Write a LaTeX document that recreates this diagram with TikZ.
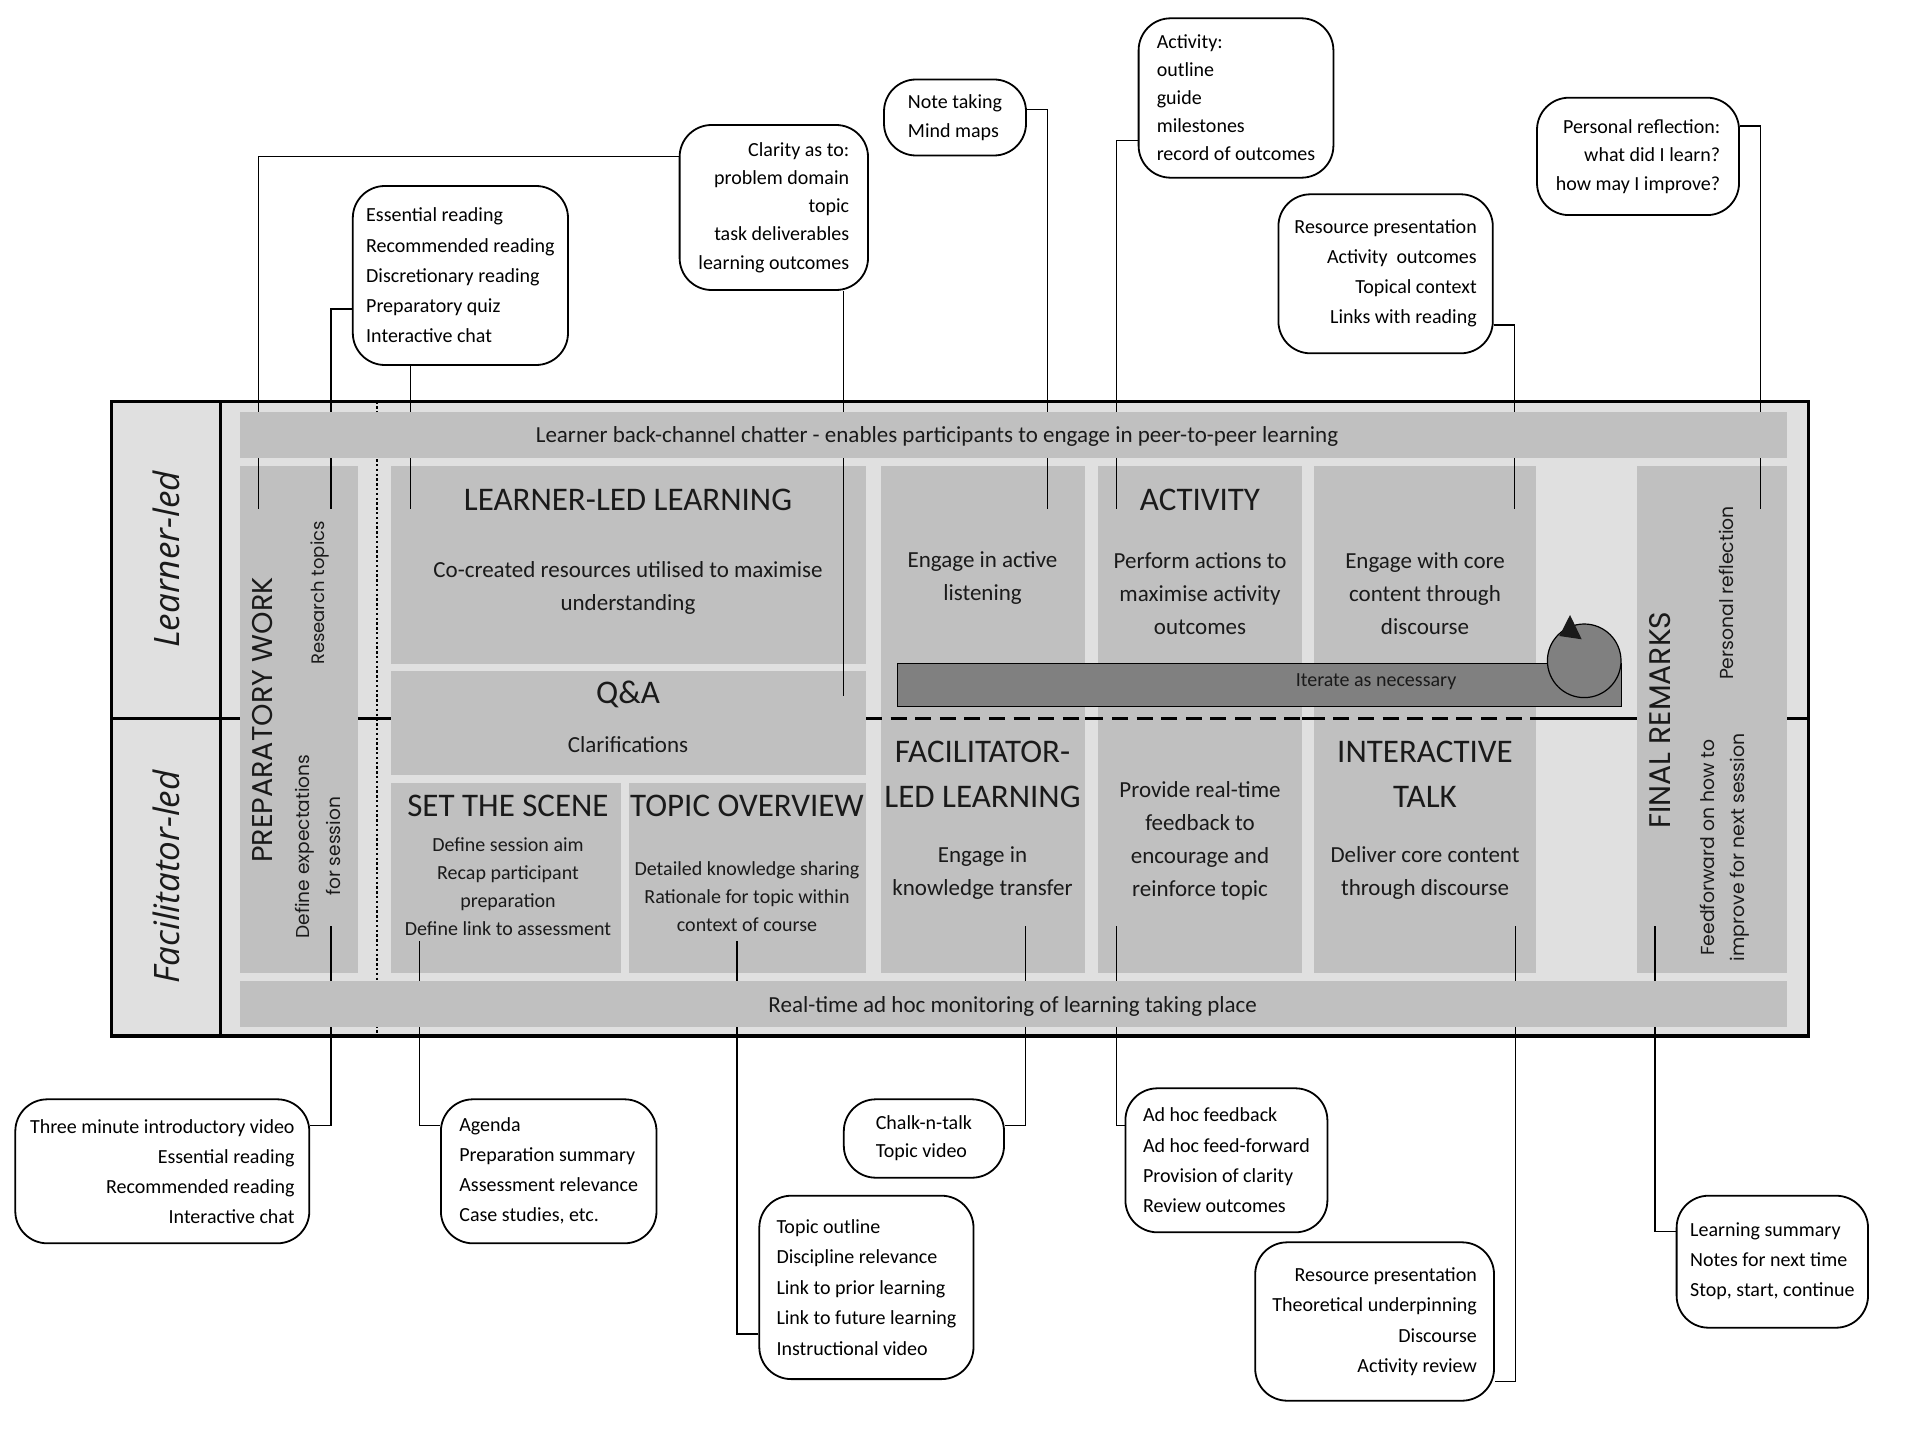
\documentclass[tikz,border=0pt]{standalone}
\usepackage{fontspec}
\setmainfont{Carlito}
\newfontfamily\geofont{Poppins}
\newfontfamily\labfont{Open Sans}
\definecolor{lightbg}{HTML}{E0E0E0}
\definecolor{boxg}{HTML}{C0C0C0}
\definecolor{darkbar}{HTML}{808080}
\definecolor{txt}{HTML}{1A1A1A}
\begin{document}
\begin{tikzpicture}[x=0.5pt,y=-0.5pt,
  gbox/.style={fill=boxg},
  body/.style={align=center,inner sep=0pt,text=txt,font=\fontsize{11.5}{16.5}\selectfont},
  ttl/.style={align=center,inner sep=0pt,text=txt,font=\fontsize{16.5}{22.5}\selectfont},
  sm/.style={align=center,inner sep=0pt,text=txt,font=\fontsize{10}{14}\selectfont},
  geo/.style={inner sep=0pt,text=txt,rotate=90,align=center},
  lane/.style={inner sep=0pt,text=txt,rotate=90,font=\labfont\itshape\fontsize{17.5}{20}\selectfont},
  callout/.style={draw=black,line width=0.9pt,rounded corners=16pt,fill=white,inner sep=0pt,text=black},
  conn/.style={line width=0.65pt},
]
\useasboundingbox (0,0) rectangle (1920,1439);
\fill[white] (0,0) rectangle (1920,1439);

% frame interior
\fill[lightbg] (111.4,401.6) rectangle (1808.6,1036);
\draw[line width=1.6pt] (111.4,718.8) -- (1808.6,718.8);
\draw[line width=0.9pt, dash pattern=on 1.2pt off 1.2pt] (377,401.6) -- (377,1036);

% grey boxes
\fill[gbox] (240,466) rectangle (358,973);
\fill[gbox] (391,466) rectangle (866,663.6);
\fill[gbox] (391,671) rectangle (866,775);
\fill[gbox] (391,782.7) rectangle (621,973);
\fill[gbox] (629,782.7) rectangle (866,973);
\fill[gbox] (880.6,466) rectangle (1084.5,973);
\fill[gbox] (1098,466) rectangle (1302,973);
\fill[gbox] (1314,466) rectangle (1536,973);
\fill[gbox] (1637,466) rectangle (1787,973);

\draw[line width=1.6pt, dash pattern=on 8pt off 4.3pt] (866,718.8) -- (1536,718.8);

% iterate bar
\draw[fill=darkbar, line width=0.5pt] (897.8,663.6) rectangle (1621.6,706.9);
\draw[fill=darkbar, line width=0.6pt] (1584.2,660.8) circle[radius=18.4pt];
\fill[txt] (1570,615) -- (1581.7,639.3) -- (1559.3,636) -- cycle;
\node[sm] (iter) at (1376,682) {Iterate as necessary};

% lane labels
\node[lane] (ll) at (166.5,559.6) {Learner-led};
\node[lane] (fl) at (166.5,876.7) {Facilitator-led};

% preparatory
\node[geo, font=\geofont\fontsize{14.3}{17}\selectfont] (prep) at (262.5,720) {PREPARATORY WORK};
\node[geo, font=\geofont\fontsize{9}{12}\selectfont] (rtop) at (320,593) {Research topics};
\node[geo, font=\geofont\fontsize{9.3}{15.2}\selectfont] (dexp) at (318,846.5) {Define expectations\\for session};

% learner-led learning
\node[ttl] (lllt) at (628,499.6) {LEARNER-LED LEARNING};
\node[body] (lllb) at (628,588.4) {Co-created resources utilised to maximise\\understanding};
\node[ttl] (qat) at (628,694) {Q\&A};
\node[body] (qab) at (628,744.5) {Clarifications};
\node[ttl] (stst) at (508,805.7) {SET THE SCENE};
\node[sm] (stsb) at (508,887) {Define session aim\\Recap participant\\preparation\\Define link to assessment};
\node[ttl] (tovt) at (747,805.7) {TOPIC OVERVIEW};
\node[sm] (tovb) at (747,896.3) {Detailed knowledge sharing\\Rationale for topic within\\context of course};

% column A
\node[body] (ab1) at (982.5,578.5) {Engage in active\\listening};
\node[ttl] (at) at (982.5,774.5) {FACILITATOR-\\LED LEARNING};
\node[body] (ab2) at (982.5,873) {Engage in\\knowledge transfer};
% column B
\node[ttl] (bt) at (1200,499.6) {ACTIVITY};
\node[body] (bb1) at (1200,594) {Perform actions to\\maximise activity\\outcomes};
\node[body] (bb2) at (1200,841.3) {Provide real-time\\feedback to\\encourage and\\reinforce topic};
% column C
\node[body] (cb1) at (1425,594) {Engage with core\\content through\\discourse};
\node[ttl] (ct) at (1425,774.5) {INTERACTIVE\\TALK};
\node[body] (cb2) at (1425,873) {Deliver core content\\through discourse};

% final remarks
\node[geo, font=\geofont\fontsize{14.9}{17}\selectfont] (fin) at (1660.5,720) {FINAL REMARKS};
\node[geo, font=\geofont\fontsize{9.4}{12}\selectfont] (pref) at (1726.7,593) {Personal reflection};
\node[geo, font=\geofont\fontsize{9.4}{15}\selectfont] (ffw) at (1725,847.5) {Feedforward on how to\\improve for next session};

% callouts top
\node[callout, minimum width=94.2pt, minimum height=82.5pt, align=right, font=\fontsize{10}{14.1}\selectfont] (clar) at (773.8,207.5) {Clarity as to:\\problem domain\\topic\\task deliverables\\learning outcomes};
\node[callout, minimum width=107.6pt, minimum height=89.5pt, align=left, font=\fontsize{10}{15.1}\selectfont] (ess) at (460.4,275.5) {Essential reading\\Recommended reading\\Discretionary reading\\Preparatory quiz\\Interactive chat};
\node[callout, minimum width=71pt, minimum height=38pt, align=left, font=\fontsize{10}{14.7}\selectfont] (note) at (955,117.5) {Note taking\\Mind maps};
\node[callout, minimum width=97.4pt, minimum height=79.7pt, align=left, font=\fontsize{10}{14}\selectfont] (act) at (1236,98) {Activity:\\outline\\guide\\milestones\\record of outcomes};
\node[callout, minimum width=107.2pt, minimum height=79.5pt, align=right, font=\fontsize{10}{15}\selectfont] (res1) at (1385.6,273.8) {Resource presentation\\Activity\ \ outcomes\\Topical context\\Links with reading};
\node[callout, minimum width=101pt, minimum height=58.7pt, align=right, font=\fontsize{10}{14.2}\selectfont] (pers) at (1638,156.4) {Personal reflection:\\what did I learn?\\how may I improve?};

% callouts bottom
\node[callout, minimum width=147pt, minimum height=72pt, align=right, font=\fontsize{10}{15}\selectfont] (three) at (162.3,1171.3) {Three minute introductory video\\Essential reading\\Recommended reading\\Interactive chat};
\node[callout, minimum width=107.8pt, minimum height=72pt, align=left, font=\fontsize{10}{15}\selectfont] (agenda) at (548.7,1171.3) {Agenda\\Preparation summary\\Assessment relevance\\Case studies, etc.};
\node[callout, minimum width=107.1pt, minimum height=91.7pt, align=left, font=\fontsize{10}{15.2}\selectfont] (topic) at (866.4,1287.4) {Topic outline\\Discipline relevance\\Link to prior learning\\Link to future learning\\Instructional video};
\node[callout, minimum width=80.1pt, minimum height=39.2pt, align=left, font=\fontsize{10}{14}\selectfont] (chalk) at (923.9,1138.5) {Chalk-n-talk\\Topic video};
\node[callout, minimum width=101pt, minimum height=72pt, align=left, font=\fontsize{10}{15.1}\selectfont] (adhoc) at (1226.4,1160.3) {Ad hoc feedback\\Ad hoc feed-forward\\Provision of clarity\\Review outcomes};
\node[callout, minimum width=119.4pt, minimum height=79.2pt, align=right, font=\fontsize{10}{15.2}\selectfont] (res2) at (1374.6,1321.5) {Resource presentation\\Theoretical underpinning\\Discourse\\Activity review};
\node[callout, minimum width=95.7pt, minimum height=66pt, align=left, font=\fontsize{10}{15}\selectfont] (learn) at (1772.3,1261.7) {Learning summary\\Notes for next time\\Stop, start, continue};

% connector ends
\coordinate (pA1) at (258.4,509);
\coordinate (pA2) at (843.7,695.5);
\coordinate (pB1) at (331,509);
\coordinate (pB2) at (410.5,509);
\coordinate (pC) at (1047.7,509);
\coordinate (pD) at (1116.8,509);
\coordinate (pE) at (1514.3,509);
\coordinate (pF) at (1760.5,509);
\coordinate (pG) at (331,925.5);
\coordinate (pH) at (419.6,941);
\coordinate (pI) at (737,941);
\coordinate (pJ) at (1025.7,925.8);
\coordinate (pK) at (1116.6,925.8);
\coordinate (pL) at (1515.5,925.8);
\coordinate (pM) at (1655,925.8);

\draw[conn] ([yshift=25.4pt]clar.west) -| (pA1);
\draw[conn] ([xshift=34.95pt]clar.south) -- (pA2);
\draw[conn] ([yshift=-16.75pt]ess.west) -| (pB1);
\draw[conn] ([xshift=-24.95pt]ess.south) -- (pB2);
\draw[conn] ([yshift=4.1pt]note.east) -| (pC);
\draw[conn] ([yshift=-21.15pt]act.west) -| (pD);
\draw[conn] ([yshift=-25.6pt]res1.east) -| (pE);
\draw[conn] ([yshift=15.2pt]pers.east) -| (pF);
\draw[conn] ([yshift=22.8pt]three.east) -| (pG);
\draw[conn] ([yshift=22.8pt]agenda.west) -| (pH);
\draw[conn] ([yshift=-23.3pt]topic.west) -| (pI);
\draw[conn] ([yshift=6.4pt]chalk.east) -| (pJ);
\draw[conn] ([yshift=17.3pt]adhoc.west) -| (pK);
\draw[conn] ([yshift=-30.1pt]res2.east) -| (pL);
\draw[conn] ([yshift=15pt]learn.west) -| (pM);

% bars (drawn over the connectors)
\fill[gbox] (240,412) rectangle (1787,458);
\fill[gbox] (240,980.5) rectangle (1787,1027);
\node[body] (chat) at (937,436) {Learner back-channel chatter - enables participants to engage in peer-to-peer learning};
\node[body] (mon) at (1012.7,1006.5) {Real-time ad hoc monitoring of learning taking place};

% frame
\draw[line width=1.6pt] (111.4,401.6) rectangle (1808.6,1036);
\draw[line width=1.6pt] (220.4,401.6) -- (220.4,1036);
\end{tikzpicture}
\end{document}
